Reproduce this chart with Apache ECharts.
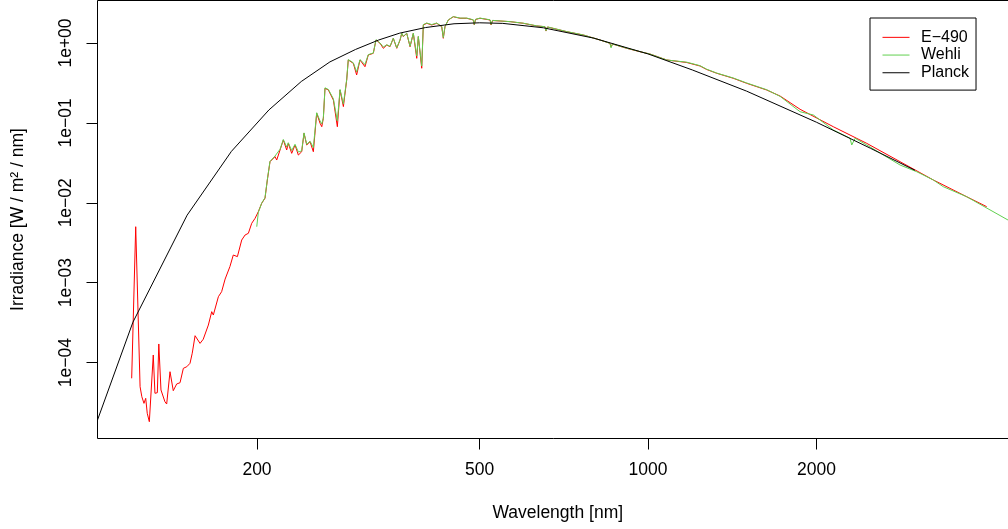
<!DOCTYPE html>
<html><head><meta charset="utf-8">
<script src="https://cdn.jsdelivr.net/npm/echarts@6/dist/echarts.min.js"></script>
<style>html,body{margin:0;padding:0;background:#fff}#c{width:1008px;height:529px}</style>
</head><body><div id="c"></div>
<script>
// ---- tick labels ----
const xTicks = [200, 500, 1000, 2000];
const xTickLabels = ['200', '500', '1000', '2000'];
const yTicks = [1e-4, 1e-3, 1e-2, 1e-1, 1];
const yTickLabels = ['1e\u221204', '1e\u221203', '1e\u221202', '1e\u221201', '1e+00'];

// ---- E-490 (red) ----
const e490Wl = [119.4,121.4,122.2,123.6,124.5,125.6,126.5,127.3,128.4,130.5,131.4,132.7,133.5,134.0,134.7,136.9,137.9,139.8,141.7,143.7,145.7,147.7,149.8,151.8,153.2,155.0,156.1,158.2,160.3,161.5,163.7,166.0,167.1,170.6,172.9,175.4,178.9,181.4,184.5,187.8,190.4,193.0,195.7,198.4,201.1,203.9,206.7,208.7,211.0,215.4,216.9,219.9,222.9,226.0,227.5,230.7,233.9,237.1,240.4,242.7,245.4,248.8,252.2,255.7,259.3,261.1,262.8,264.6,268.3,270.2,273.9,278.4,281.5,285.4,289.3,291.2,297.3,301.4,305.6,311.9,316.2,322.8,326.4,331.9,336.4,341.2,345.8,350.5,355.5,360.4,362.9,365.3,370.4,375.5,380.6,386.0,388.5,394.0,396.6,402.2,410.6,419.1,427.8,430.6,433.6,439.6,448.7,461.3,474.2,487.2,489.2,491.6,500.8,522.0,524.2,527.4,543.8,566.7,598.5,632.4,654.4,657.1,661.2,715.6,766.3,820.6,855.2,858.8,864.1,916.1,967.6,1008,1080,1173,1239,1273,1327,1420,1501,1630,1722,1870,2144,2460,2822,3236,3713,4031];
const e490E = [6.36e-5,5.02e-3,4.95e-3,4.99e-5,3.74e-5,3.09e-5,3.57e-5,2.32e-5,1.82e-5,1.245e-4,4.13e-5,4.20e-5,1.71e-4,1.71e-4,4.54e-5,3.24e-5,3.03e-5,7.69e-5,4.45e-5,5.40e-5,5.60e-5,8.48e-5,8.88e-5,9.80e-5,1.31e-4,2.17e-4,2.11e-4,1.74e-4,1.96e-4,2.03e-4,2.95e-4,4.34e-4,3.94e-4,6.68e-4,7.72e-4,1.11e-3,1.59e-3,2.22e-3,2.12e-3,3.42e-3,3.95e-3,4.15e-3,5.54e-3,6.39e-3,7.74e-3,9.86e-3,0.0114,0.0193,0.0327,0.0378,0.0343,0.0458,0.0611,0.0458,0.0555,0.0416,0.0529,0.0396,0.0436,0.0741,0.0529,0.0582,0.0436,0.132,0.0989,0.0896,0.114,0.271,0.258,0.258,0.193,0.0896,0.258,0.160,0.344,0.613,0.557,0.398,0.613,0.505,0.708,0.743,1.09,0.991,0.858,0.944,0.899,1.145,0.858,1.09,1.32,1.20,1.32,0.899,1.32,0.643,1.20,0.483,1.68,1.765,1.68,1.765,1.60,1.145,1.60,1.94,2.13,2.04,2.04,1.94,1.68,1.97,2.04,1.94,1.68,1.91,1.885,1.85,1.765,1.633,1.60,1.41,1.586,1.385,1.259,1.09,0.991,0.891,0.972,0.858,0.778,0.728,0.613,0.570,0.515,0.466,0.418,0.362,0.313,0.258,0.217,0.148,0.0896,0.0555,0.0327,0.0193,0.0119,0.00894];

// ---- Wehli (green) ----
const wehliWl = [199.8,201.1,203.9,206.7,208.7,211.0,215.4,216.9,219.9,222.9,226.0,227.5,230.7,233.9,237.1,240.4,242.7,245.4,248.8,252.2,255.7,259.3,261.1,262.8,264.6,268.3,270.2,273.9,278.4,281.5,285.4,289.3,291.2,297.3,301.4,305.6,311.9,316.2,322.8,326.4,331.9,336.4,341.2,345.8,350.5,355.5,360.4,362.9,365.3,370.4,375.5,380.6,386.0,388.5,394.0,396.6,402.2,410.6,419.1,427.8,430.6,433.6,439.6,448.7,461.3,474.2,487.2,489.2,491.6,500.8,522.0,524.2,527.4,543.8,566.7,598.5,632.4,654.4,657.1,661.2,715.6,766.3,820.6,855.2,858.8,864.1,916.1,967.6,1008,1080,1173,1239,1273,1327,1420,1501,1630,1722,1870,1975,2144,2297,2313,2345,2460,2822,3022,3236,3372,3713,4400];
const wehliE = [5.02e-3,7.6e-3,9.9e-3,0.0116,0.0196,0.0330,0.0385,0.0364,0.0468,0.0620,0.0499,0.0565,0.0451,0.0540,0.0432,0.0446,0.0750,0.0540,0.0590,0.0492,0.134,0.1056,0.0969,0.116,0.275,0.262,0.262,0.200,0.1056,0.262,0.172,0.35,0.62,0.565,0.434,0.62,0.538,0.715,0.75,1.10,1.0,0.891,0.95,0.91,1.15,0.87,1.10,1.33,1.21,1.33,0.91,1.33,0.688,1.21,0.515,1.70,1.78,1.70,1.78,1.61,1.17,1.61,1.95,2.14,2.05,2.05,1.95,1.70,1.98,2.05,1.95,1.70,1.92,1.89,1.85,1.77,1.64,1.60,1.42,1.59,1.39,1.26,1.09,0.991,0.87,0.972,0.86,0.78,0.728,0.613,0.575,0.52,0.47,0.42,0.365,0.316,0.26,0.215,0.138,0.1256,0.0815,0.0642,0.0529,0.0642,0.0529,0.0297,0.0245,0.0193,0.0159,0.0119,0.00609];

// ---- Planck (black) ----
const planckWl = [103.7,120,150,180,210,240,270,300,330,360,400,450,500,550,650,800,1000,1200,1500,2000,2500,3000];
const planckE = [1.9e-5,3.2e-4,7.0e-3,0.044,0.145,0.33,0.58,0.83,1.09,1.33,1.56,1.74,1.79,1.76,1.55,1.15,0.73,0.46,0.25,0.102,0.048,0.0255];

const zip = (a, b) => a.map((v, i) => [v, b[i]]);
const FONT = '"Liberation Sans", Arial, Helvetica, sans-serif';
const LINE_ICON = 'path://M0,0H27V1H0Z';

const chart = echarts.init(document.getElementById('c'), null, {renderer: 'canvas'});
chart.setOption({
  animation: false,
  backgroundColor: '#fff',
  textStyle: {fontFamily: FONT, color: '#000'},
  grid: {left: 97.5, top: 0.5, width: 920.5, bottom: 90.5, show: true, borderColor: '#000', borderWidth: 1,
         backgroundColor: 'transparent', containLabel: false, outerBoundsMode: 'none'},
  legend: {
    orient: 'vertical', left: 870, top: 18,
    padding: [10.5, 7, 8.5, 12.5], itemWidth: 27, itemHeight: 1, itemGap: 0,
    borderColor: '#000', borderWidth: 1, selectedMode: false,
    textStyle: {fontSize: 16, fontFamily: FONT, color: '#000', padding: [0, 0, 0, 6.5], lineHeight: 17.7},
    data: [{name: 'E\u2212490', icon: LINE_ICON}, {name: 'Wehli', icon: LINE_ICON}, {name: 'Planck', icon: LINE_ICON}]
  },
  xAxis: {
    type: 'log', logBase: 10, min: 103.73, max: 4585.4,
    name: 'Wavelength [nm]', nameLocation: 'middle', nameGap: 66,
    nameTextStyle: {fontSize: 17.5, fontFamily: FONT, color: '#000'},
    axisLine: {show: false},
    axisTick: {show: true, inside: false, length: 11, lineStyle: {color: '#000', width: 1}, customValues: xTicks},
    axisLabel: {margin: 22.5, fontSize: 17.5, fontFamily: FONT, color: '#000', customValues: xTicks,
      formatter: v => { const i = xTicks.findIndex(t => Math.abs(t - v) / t < 1e-6); return i >= 0 ? xTickLabels[i] : ''; }},
    splitLine: {show: false}, minorTick: {show: false}
  },
  yAxis: {
    type: 'log', logBase: 10, min: 1.1221e-5, max: 3.4035,
    name: 'Irradiance [W / m\u00b2 / nm]', nameLocation: 'middle', nameGap: 70, nameRotate: 90,
    nameTextStyle: {fontSize: 17.5, fontFamily: FONT, color: '#000'},
    axisLine: {show: false},
    axisTick: {show: true, inside: false, length: 11, lineStyle: {color: '#000', width: 1}, customValues: yTicks},
    axisLabel: {margin: 22, rotate: 90, fontSize: 17.5, fontFamily: FONT, color: '#000', customValues: yTicks,
      formatter: v => { const i = yTicks.findIndex(t => Math.abs(t - v) / t < 1e-6); return i >= 0 ? yTickLabels[i] : ''; }},
    splitLine: {show: false}, minorTick: {show: false}
  },
  series: [
    {name: 'E\u2212490', type: 'line', data: zip(e490Wl, e490E), symbol: 'none', showSymbol: false, clip: true,
     lineStyle: {color: '#FF0000', width: 1}, itemStyle: {color: '#FF0000'}},
    {name: 'Wehli', type: 'line', data: zip(wehliWl, wehliE), symbol: 'none', showSymbol: false, clip: true,
     lineStyle: {color: '#61D04F', width: 1}, itemStyle: {color: '#61D04F'}},
    {name: 'Planck', type: 'line', data: zip(planckWl, planckE), symbol: 'none', showSymbol: false, clip: true,
     lineStyle: {color: '#000000', width: 1}, itemStyle: {color: '#000000'}}
  ]
});
</script>
</body></html>
